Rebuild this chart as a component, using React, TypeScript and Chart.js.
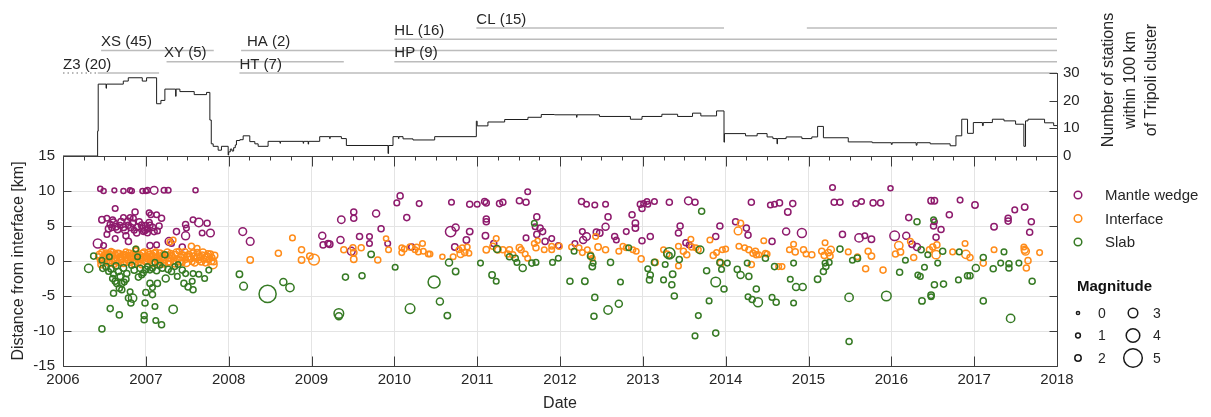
import { useEffect, useRef } from "react";
import { Chart, registerables } from "chart.js";

Chart.register(...registerables);

const W = 1211;
const H = 417;
const FONT = "'Liberation Sans', Arial, Helvetica, sans-serif";
const INK = "#262626";
const FRAME = "#3c3c3c";
const GRID = "#e4e4e4";
const MANTLE = "#8e1b6d";
const INTERFACE = "#ff8c1a";
const SLAB = "#367a24";

// Number of stations within 100 km of the Tripoli cluster (step starts)
const stationYears = [
  2006.0, 2006.418, 2006.425, 2006.52, 2006.525, 2006.728, 2006.788, 2006.957, 2007.009, 2007.13,
  2007.182, 2007.23, 2007.36, 2007.365, 2007.411, 2007.584, 2007.733, 2007.773, 2007.79, 2007.813,
  2007.873, 2007.913, 2007.994, 2008.0, 2008.02, 2008.04, 2008.06, 2008.08, 2008.094, 2008.135,
  2008.175, 2008.255, 2008.316, 2008.356, 2008.476, 2008.62, 2008.625, 2008.9, 2008.905, 2008.96,
  2008.965, 2009.099, 2009.22, 2009.225, 2009.361, 2009.421, 2009.924, 2009.93, 2009.984, 2010.05,
  2010.055, 2010.105, 2010.225, 2010.487, 2010.99, 2011.0, 2011.13, 2011.332, 2011.613, 2011.774,
  2011.934, 2012.2, 2012.205, 2012.476, 2012.85, 2012.99, 2013.23, 2013.42, 2013.6, 2013.7,
  2013.89, 2013.98, 2013.985, 2014.24, 2014.38, 2014.5, 2014.57, 2014.62, 2014.625, 2014.73,
  2014.92, 2015.04, 2015.11, 2015.18, 2015.48, 2015.77, 2016.0, 2016.01, 2016.3, 2016.31,
  2016.47, 2016.71, 2016.78, 2016.85, 2016.92, 2016.99, 2017.1, 2017.11, 2017.22, 2017.36,
  2017.5, 2017.6, 2017.62, 2017.65, 2017.85, 2017.96, 2018.0,
];
const stationCounts = [
  0, 9, 26, 24.5, 26, 27.1, 28.3, 27.1, 28.3, 18.9,
  20.1, 24.2, 21.6, 24.2, 23.3, 22.2, 23.0, 13, 4.4, 3.5,
  2.1, 3.5, 0.35, 1.5, 2.5, 1.8, 3.0, 4.0, 5.6, 5.9,
  7.3, 5.2, 4.4, 3.5, 5.3, 4.6, 5.3, 4.6, 5.3, 4.3,
  5.3, 7.0, 6.3, 7.0, 6.3, 3.8, 0.9, 3.8, 7.0, 6.3,
  7.0, 6.2, 5.8, 7.0, 12.6, 10.9, 12.3, 13.2, 14.0, 15.0,
  14.9, 14.0, 14.9, 14.3, 13.3, 14.3, 15.1, 14.3, 15.5, 14.5,
  16.3, 5.0, 8.1, 7.3, 8.1, 6.9, 6.3, 4.4, 6.3, 6.9,
  6.3, 6.9, 10.7, 6.6, 5.1, 4.8, 4.2, 4.8, 3.9, 4.8,
  4.4, 3.7, 7.3, 13.3, 8.2, 12.1, 11.0, 12.1, 13.3, 12.7,
  11.5, 3.5, 12.7, 13.3, 12.0, 11.0, 11.0,
];

// Seismic networks: name, bar row, operating periods (decimal years)
const networkNames = ["Z3 (20)", "XS (45)", "XY (5)", "HA (2)", "HT (7)", "HL (16)", "HP (9)", "CL (15)"];
const networkRows = [0, 2, 1, 2, 0, 3, 1, 4];
const networkPeriods: number[][][] = [
  [[2006.42, 2007.16]],
  [[2006.46, 2007.82]],
  [[2007.25, 2009.39]],
  [[2008.15, 2018.0]],
  [[2008.13, 2018.0]],
  [[2010.0, 2018.0]],
  [[2010.0, 2018.0]],
  [[2010.99, 2013.98], [2014.98, 2018.0]],
];
const networkLabelYears = [2006.0, 2006.46, 2007.22, 2008.22, 2008.13, 2010.0, 2010.0, 2010.99];
const z3Partial = [2006.0, 2006.42];

// Earthquakes: [decimal year, distance from interface (km), magnitude]
const mantleWedge: number[][] = [
  [2006.45, 10.3, 1.2], [2006.49, 10.0, 1.2], [2006.62, 10.1, 1.0], [2006.73, 10.0, 1.2], [2006.81, 10.1, 1.2],
  [2006.83, 10.0, 1.2], [2006.96, 10.0, 1.2], [2007.0, 10.0, 1.2], [2007.02, 10.1, 1.5], [2007.1, 10.1, 2.4],
  [2007.22, 10.1, 1.5], [2007.27, 10.1, 1.5], [2007.6, 10.1, 1.2],
  [2006.63, 7.5, 1.5], [2006.87, 7.0, 1.8], [2007.04, 6.9, 1.5], [2007.13, 6.6, 1.5], [2007.19, 6.1, 1.8],
  [2006.47, 5.9, 2.0], [2006.53, 6.1, 1.5], [2006.57, 5.2, 1.8], [2006.6, 5.9, 1.5], [2006.59, 4.8, 1.8],
  [2006.64, 4.9, 2.0], [2006.69, 5.1, 1.5], [2006.73, 6.2, 1.5], [2006.73, 4.8, 2.0], [2006.79, 5.1, 1.8],
  [2006.81, 6.2, 1.5], [2006.85, 6.1, 1.5], [2006.82, 4.8, 2.0], [2006.9, 4.9, 1.8], [2006.95, 5.1, 2.0],
  [2006.96, 4.7, 1.8], [2007.0, 5.0, 2.2], [2007.02, 4.6, 1.8], [2007.05, 5.1, 1.8], [2007.06, 6.6, 1.5],
  [2007.02, 4.0, 1.5], [2006.97, 4.2, 1.5], [2006.89, 4.0, 1.8], [2006.86, 4.4, 1.5], [2006.53, 3.8, 1.5],
  [2006.63, 3.2, 1.5], [2006.76, 3.6, 1.8], [2006.79, 2.8, 1.8], [2007.14, 4.3, 1.5], [2007.37, 4.2, 1.8],
  [2007.48, 5.2, 1.8], [2007.49, 4.7, 1.5], [2007.48, 3.6, 2.5], [2007.57, 5.9, 1.5], [2007.64, 5.5, 2.6],
  [2007.74, 5.4, 1.8], [2007.78, 4.0, 2.4], [2007.68, 4.0, 1.5], [2007.28, 2.8, 2.4], [2007.31, 2.5, 1.5],
  [2007.44, 2.0, 1.8], [2006.42, 2.5, 2.8], [2006.49, 2.2, 1.5], [2007.05, 2.2, 1.8], [2007.13, 2.3, 1.5],
  [2006.55, 4.6, 2.0], [2006.61, 5.5, 2.2], [2006.66, 4.5, 2.0], [2006.7, 5.6, 2.0], [2006.75, 4.4, 2.2],
  [2006.78, 5.7, 1.8], [2006.84, 5.4, 2.0], [2006.92, 5.6, 1.8], [2006.99, 4.4, 2.0], [2007.04, 5.5, 1.8],
  [2007.08, 4.8, 2.0], [2007.1, 4.2, 1.8], [2007.16, 5.0, 1.8],
  [2008.17, 4.2, 2.4], [2008.26, 2.8, 2.4], [2009.13, 3.6, 2.2], [2009.14, 2.3, 1.8], [2009.2, 2.5, 1.8],
  [2009.22, 2.4, 2.0], [2009.36, 5.9, 2.3], [2009.35, 3.0, 2.2], [2009.51, 7.0, 1.8], [2009.51, 6.1, 1.8],
  [2009.48, 1.4, 2.4], [2009.58, 3.5, 1.8], [2009.7, 3.5, 1.5], [2009.7, 2.5, 1.5], [2009.78, 6.8, 2.2],
  [2009.84, 4.6, 1.8], [2009.92, 2.5, 1.5], [2010.07, 9.3, 1.8], [2010.03, 8.3, 1.5], [2010.15, 6.2, 1.8],
  [2010.3, 8.2, 1.5], [2010.21, 2.0, 1.8],
  [2010.69, 8.4, 1.5], [2010.91, 8.1, 1.8], [2011.0, 8.1, 1.5], [2011.09, 8.5, 1.8], [2011.11, 8.3, 1.8],
  [2011.27, 8.2, 1.8], [2011.31, 8.4, 1.8], [2011.51, 8.6, 1.8], [2011.59, 8.4, 1.8], [2011.61, 9.9, 1.5],
  [2010.68, 4.2, 3.2], [2010.74, 4.8, 2.2], [2010.91, 4.2, 2.0], [2010.87, 3.0, 2.0], [2010.73, 2.0, 2.0],
  [2011.11, 6.0, 1.8], [2011.11, 5.6, 1.8], [2011.1, 3.6, 2.0], [2011.2, 2.5, 1.8], [2011.72, 6.3, 1.8],
  [2011.7, 4.9, 1.5], [2011.76, 4.7, 1.8], [2011.79, 4.2, 1.8], [2011.72, 3.8, 1.8], [2011.59, 3.3, 1.5],
  [2011.82, 2.8, 1.8], [2011.9, 3.2, 1.5], [2011.98, 2.2, 1.5], [2012.26, 8.5, 1.8], [2012.32, 8.1, 1.5],
  [2012.42, 8.0, 1.5], [2012.55, 8.1, 1.5], [2012.58, 6.3, 1.8], [2012.55, 4.9, 2.2], [2012.48, 4.0, 2.0],
  [2012.27, 4.2, 1.5], [2012.32, 3.5, 2.4], [2012.28, 3.0, 2.2], [2012.18, 2.5, 1.5], [2012.66, 3.5, 1.8],
  [2012.68, 3.0, 1.5], [2012.8, 4.2, 1.5], [2012.87, 6.6, 1.8], [2012.91, 5.4, 2.0], [2012.91, 4.7, 2.0],
  [2012.44, 4.1, 2.0],
  [2012.97, 8.1, 1.8], [2012.99, 7.5, 1.8], [2013.01, 8.2, 1.5], [2013.05, 8.5, 1.5], [2013.06, 8.1, 1.5],
  [2013.14, 8.5, 1.5], [2013.32, 8.4, 1.8], [2013.55, 8.6, 2.4], [2013.63, 8.4, 1.8], [2013.09, 3.5, 1.8],
  [2012.99, 2.9, 1.8], [2013.43, 4.0, 1.8], [2013.45, 5.0, 1.8], [2013.52, 2.6, 1.8], [2013.56, 2.3, 1.5],
  [2013.88, 3.5, 1.8], [2013.93, 5.0, 1.8], [2014.12, 5.6, 1.8], [2014.25, 4.7, 1.8], [2014.27, 3.7, 1.8],
  [2014.31, 8.4, 1.8], [2014.54, 8.0, 1.5], [2014.59, 8.1, 1.5], [2014.65, 8.3, 1.8], [2014.81, 8.2, 1.8],
  [2014.75, 7.0, 2.0], [2014.73, 4.2, 2.2], [2014.92, 4.0, 2.8], [2014.56, 2.8, 1.8], [2015.29, 10.5, 1.5],
  [2015.31, 8.4, 1.8], [2015.38, 8.4, 1.8], [2015.41, 3.8, 1.8],
  [2015.57, 8.2, 1.5], [2015.64, 8.5, 1.5], [2015.78, 8.3, 1.8], [2015.87, 8.3, 1.8], [2015.99, 10.4, 1.2],
  [2015.61, 3.3, 2.6], [2015.68, 3.6, 1.5], [2015.76, 3.1, 2.0], [2016.04, 3.6, 3.0], [2016.18, 3.6, 2.2],
  [2016.21, 6.2, 1.8], [2016.25, 2.4, 2.0], [2016.31, 2.0, 2.2], [2016.48, 8.6, 2.0], [2016.52, 8.6, 2.0],
  [2016.51, 5.0, 1.8], [2016.52, 5.6, 1.5], [2016.6, 4.5, 1.8], [2016.54, 3.4, 1.8], [2016.7, 6.6, 1.8],
  [2016.83, 8.7, 1.5], [2017.01, 8.0, 2.0], [2017.24, 4.9, 2.0], [2017.41, 6.1, 1.8], [2017.41, 5.7, 1.8],
  [2017.49, 7.3, 1.5], [2017.61, 7.7, 2.0], [2017.69, 5.6, 1.8], [2017.67, 4.1, 1.8],
];

const interfaceEvents: number[][] = [
  [2006.43, 0.6, 1.8], [2006.45, 0.1, 1.5], [2006.47, 1.2, 1.8], [2006.48, -0.3, 1.5], [2006.5, 0.8, 2.0],
  [2006.51, 0.3, 1.5], [2006.53, -0.1, 1.8], [2006.54, 1.0, 1.5], [2006.55, 0.5, 2.0], [2006.57, 0.0, 1.5],
  [2006.58, 1.4, 1.5], [2006.59, 0.7, 1.8], [2006.61, 0.2, 1.5], [2006.62, -0.5, 1.5], [2006.63, 0.9, 2.0],
  [2006.65, 0.4, 1.5], [2006.66, 1.1, 1.8], [2006.67, -0.2, 1.5], [2006.69, 0.6, 2.0], [2006.7, 0.1, 1.5],
  [2006.72, 0.9, 1.8], [2006.73, -0.4, 1.5], [2006.75, 0.5, 2.0], [2006.76, 1.3, 1.5], [2006.78, 0.2, 1.8],
  [2006.79, 0.8, 1.5], [2006.81, -0.2, 1.8], [2006.82, 0.4, 2.0], [2006.84, 1.0, 1.5], [2006.85, 0.0, 1.5],
  [2006.87, 0.6, 2.0], [2006.88, 1.5, 1.5], [2006.9, 0.3, 1.8], [2006.91, -0.3, 1.5], [2006.93, 0.8, 2.0],
  [2006.94, 0.2, 1.5], [2006.96, 1.1, 1.8], [2006.97, 0.5, 2.0], [2006.99, -0.1, 1.5], [2007.0, 0.7, 2.0],
  [2007.02, 0.3, 1.5], [2007.03, 1.2, 1.8], [2007.05, 0.0, 1.5], [2007.06, 0.6, 2.0], [2007.08, 0.9, 1.5],
  [2007.09, -0.4, 1.5], [2007.11, 0.4, 2.0], [2007.12, 1.3, 1.5], [2007.14, 0.1, 1.8], [2007.16, 0.7, 2.0],
  [2007.18, -0.2, 1.5], [2007.19, 0.5, 1.8], [2007.21, 1.0, 1.5], [2007.23, 0.2, 2.0], [2007.25, 0.8, 1.8],
  [2007.27, -0.3, 1.5], [2007.28, 0.4, 2.0], [2007.3, 1.1, 1.5], [2007.32, 0.6, 1.8], [2007.34, 0.0, 1.5],
  [2007.36, 0.9, 2.0], [2007.38, 0.3, 1.5], [2007.4, 1.4, 1.5], [2007.42, 0.5, 2.0], [2007.44, -0.2, 1.5],
  [2007.46, 0.8, 1.8], [2007.48, 0.2, 1.5], [2007.5, 0.6, 2.4], [2007.52, 1.0, 1.5], [2007.54, 0.3, 1.8],
  [2007.56, -0.1, 1.5], [2007.58, 0.7, 2.0], [2007.6, 0.4, 1.5], [2007.62, 1.2, 1.8], [2007.64, 0.1, 1.5],
  [2007.66, 0.6, 2.0], [2007.68, 0.9, 1.5], [2007.7, 0.3, 1.8], [2007.72, -0.3, 1.5], [2007.74, 0.7, 2.0],
  [2007.76, 0.2, 1.5], [2007.78, 1.0, 1.8], [2007.8, 0.5, 1.5], [2007.82, -0.1, 1.8], [2007.81, -0.5, 2.6],
  [2006.44, 0.9, 2.2], [2006.46, -0.5, 2.0], [2006.49, 0.4, 2.4], [2006.52, 1.1, 2.0], [2006.56, -0.3, 2.2],
  [2006.57, 0.8, 2.4], [2006.6, 1.2, 2.0], [2006.64, 0.0, 2.4], [2006.68, 1.0, 2.2], [2006.71, 0.3, 2.4],
  [2006.74, 0.9, 2.0], [2006.77, -0.1, 2.2], [2006.8, 1.1, 2.0], [2006.83, 0.6, 2.4], [2006.86, -0.4, 2.0],
  [2006.89, 0.9, 2.2], [2006.92, 0.4, 2.4], [2006.95, -0.5, 2.0], [2006.98, 1.2, 2.2], [2007.01, 0.1, 2.4],
  [2007.04, 0.9, 2.0], [2007.07, -0.2, 2.2], [2007.1, 1.0, 2.4], [2007.13, 0.5, 2.2], [2007.15, -0.5, 2.0],
  [2007.17, 1.1, 2.0], [2007.2, 0.2, 2.4], [2007.22, -0.4, 2.0], [2007.26, 1.2, 2.2], [2007.29, 0.0, 2.4],
  [2007.31, 0.8, 2.0], [2007.35, -0.4, 2.0], [2007.37, 1.2, 2.2], [2007.41, 0.0, 2.4], [2007.43, 0.9, 2.0],
  [2007.47, 1.3, 2.0], [2007.49, -0.3, 2.2], [2007.53, 0.5, 2.4], [2007.57, 1.1, 2.0], [2007.59, -0.2, 2.2],
  [2007.63, 0.6, 2.4], [2007.67, -0.1, 2.0], [2007.69, 1.2, 2.2], [2007.73, 0.4, 2.4], [2007.75, 1.0, 2.0],
  [2007.79, 0.0, 2.2], [2007.83, 0.8, 2.0],
  [2007.33, 3.0, 1.5], [2007.29, 2.7, 1.5], [2007.55, 2.1, 1.8], [2007.62, 1.8, 1.5], [2006.88, 1.7, 1.5],
  [2008.26, 0.15, 2.0], [2008.6, 1.1, 1.8], [2008.77, 3.3, 1.5], [2008.88, 1.6, 1.8], [2008.88, 0.15, 2.0],
  [2008.98, 0.7, 2.0], [2009.03, 0.2, 3.3], [2009.39, 1.6, 1.8], [2009.5, 1.9, 1.8], [2009.51, 1.2, 2.0],
  [2009.51, 0.25, 2.0], [2009.6, 1.9, 1.8], [2009.8, 0.15, 1.8], [2009.9, 3.2, 1.2], [2009.93, 1.6, 1.5],
  [2010.09, 1.9, 1.5], [2010.09, 1.2, 1.5], [2010.12, 1.7, 1.5], [2010.19, 2.0, 1.8], [2010.25, 1.6, 1.5],
  [2010.27, 2.0, 1.5], [2010.29, 1.3, 1.5], [2010.34, 2.5, 1.5], [2010.35, 1.4, 1.5], [2010.41, 1.0, 1.5],
  [2010.43, 1.0, 1.5], [2010.58, 0.6, 1.2], [2010.71, 0.6, 1.5], [2010.78, 1.6, 1.5], [2010.8, 1.0, 2.2],
  [2010.82, 1.9, 1.5], [2010.85, 1.2, 1.8], [2010.88, 2.0, 1.5], [2010.9, 1.1, 1.5], [2011.11, 1.6, 2.0],
  [2011.19, 2.1, 1.8], [2011.23, 3.2, 1.5], [2011.25, 1.6, 2.0], [2011.31, 1.6, 1.8], [2011.39, 1.6, 1.8],
  [2011.37, 1.0, 1.8], [2011.43, 0.9, 1.8], [2011.51, 1.9, 2.0], [2011.53, 1.6, 1.8], [2011.58, 1.0, 1.5],
  [2011.61, 0.4, 1.5], [2011.69, 2.5, 1.5], [2011.71, 1.9, 1.8], [2011.73, 2.9, 1.2], [2011.81, 1.6, 1.5],
  [2011.9, 1.6, 1.5], [2011.9, 2.1, 1.5], [2011.99, 2.1, 1.8], [2012.14, 2.0, 1.5], [2012.23, 1.9, 1.5],
  [2012.27, 1.2, 1.5], [2012.33, 1.6, 1.5], [2012.37, 0.9, 1.5], [2012.39, 0.4, 1.5], [2012.43, 3.5, 1.5],
  [2012.46, 2.0, 2.0], [2012.55, 1.6, 1.8], [2012.71, 1.4, 1.5], [2012.76, 2.1, 1.5], [2012.8, 1.9, 1.5],
  [2012.88, 1.6, 1.5], [2012.92, 1.4, 1.5],
  [2012.98, 0.3, 1.8], [2013.15, -0.2, 1.8], [2013.25, 1.6, 1.5], [2013.29, 1.0, 1.8], [2013.43, 2.1, 1.5],
  [2013.43, -0.7, 1.5], [2013.49, 1.4, 1.8], [2013.53, 0.9, 1.8], [2013.58, 3.1, 1.5], [2013.59, 2.0, 1.8],
  [2013.64, 1.9, 1.5], [2013.67, 1.6, 1.5], [2013.81, 3.0, 1.5], [2013.85, 0.8, 1.8], [2013.89, 1.2, 1.5],
  [2013.96, 1.6, 1.5], [2014.0, 1.7, 1.5], [2013.94, -0.3, 2.0], [2014.16, 2.1, 1.5], [2014.18, 5.4, 1.8],
  [2014.15, 4.3, 2.4], [2014.23, 1.9, 1.5], [2014.28, 1.6, 1.8], [2014.33, 1.1, 1.8], [2014.36, 1.4, 1.8],
  [2014.37, 0.9, 1.8], [2014.31, -0.5, 1.8], [2014.4, 0.9, 1.5], [2014.46, 2.9, 1.5], [2014.48, 1.1, 1.5],
  [2014.5, 1.0, 1.5], [2014.64, -0.8, 1.5], [2014.68, -0.8, 1.5], [2014.77, 1.6, 1.5], [2014.82, 2.4, 1.5],
  [2014.84, 1.3, 1.8], [2014.94, 1.6, 1.8], [2014.97, 1.0, 1.5], [2015.04, 0.9, 1.8], [2015.16, 1.4, 1.8],
  [2015.19, 0.8, 1.8], [2015.2, 2.6, 1.5], [2015.24, 1.2, 2.0], [2015.26, 0.7, 1.8], [2015.27, 1.6, 2.2],
  [2015.48, 1.3, 1.5],
  [2015.59, 0.6, 1.5], [2015.72, 1.4, 1.8], [2015.76, 0.7, 2.0], [2015.69, -1.1, 1.8], [2015.9, -1.3, 1.8],
  [2016.05, 1.0, 1.8], [2016.09, 2.2, 2.6], [2016.11, 1.3, 2.0], [2016.27, 0.5, 1.8], [2016.23, 2.8, 1.5],
  [2016.46, 1.6, 1.8], [2016.5, 2.0, 1.8], [2016.55, 2.3, 1.8], [2016.54, 0.9, 2.6], [2016.74, 1.3, 1.5],
  [2016.89, 2.5, 1.5], [2016.9, 0.95, 2.6], [2016.95, 0.5, 1.8], [2017.11, -0.3, 1.8], [2017.24, 1.6, 1.5],
  [2017.6, 2.0, 1.5], [2017.62, 1.4, 2.4], [2017.61, 1.6, 2.2], [2017.65, 0.05, 1.8], [2017.63, -1.0, 1.8],
  [2017.79, 1.2, 1.5],
];

const slabEvents: number[][] = [
  [2006.31, -1.05, 2.6], [2006.37, 0.7, 1.8], [2006.47, 0.1, 1.5], [2006.56, 0.6, 1.5], [2006.48, -1.05, 1.8],
  [2006.55, -1.5, 1.5], [2006.61, -1.9, 1.5], [2006.67, -1.5, 1.8], [2006.69, -2.2, 1.8], [2006.63, -2.9, 1.8],
  [2006.65, -3.2, 1.8], [2006.71, -3.2, 1.8], [2006.68, -3.9, 1.8], [2006.61, -4.6, 1.8], [2006.74, -3.0, 1.5],
  [2006.71, -4.1, 1.8], [2006.81, -4.4, 1.5], [2006.79, -5.3, 1.8], [2006.84, -5.3, 2.6], [2006.82, -6.0, 1.8],
  [2006.57, -6.8, 1.8], [2006.68, -7.7, 1.8], [2006.47, -9.7, 1.8], [2006.83, -0.6, 1.8], [2006.88, 1.7, 1.5],
  [2006.93, -1.05, 1.8], [2006.95, -2.0, 1.5], [2006.97, -1.7, 1.5], [2007.02, -0.8, 1.5], [2007.05, -1.3, 1.5],
  [2007.08, -1.05, 1.5], [2007.11, -0.2, 1.5], [2007.17, -0.6, 1.5], [2007.05, -3.2, 1.8], [2007.14, -3.2, 1.8],
  [2007.08, -3.8, 1.5], [2007.0, -4.5, 1.8], [2007.08, -4.8, 1.8], [2006.99, -6.0, 1.8], [2007.11, -6.5, 1.5],
  [2006.98, -7.8, 1.8], [2006.98, -8.4, 1.8], [2007.12, -8.5, 1.5], [2007.19, -9.1, 1.8], [2007.33, -6.9, 2.6],
  [2007.24, -2.5, 2.2], [2007.31, -1.5, 1.8], [2007.35, -0.8, 1.5], [2007.38, -2.2, 1.5], [2007.44, -1.3, 1.8],
  [2007.48, -1.8, 1.5], [2007.46, -3.2, 1.8], [2007.51, -3.7, 1.8], [2007.57, -4.1, 1.8], [2007.56, -2.9, 1.5],
  [2007.57, -1.8, 1.5], [2007.64, -1.9, 1.5], [2007.71, -2.5, 1.5], [2007.76, -1.3, 1.5], [2007.23, 0.9, 1.8],
  [2007.39, -0.5, 1.5], [2006.9, 0.6, 1.5],
  [2006.52, -0.8, 2.0], [2006.58, -1.1, 2.0], [2006.64, -0.7, 1.8], [2006.73, -1.0, 2.0], [2006.77, -1.8, 1.8],
  [2006.86, -1.3, 2.0], [2006.91, -2.3, 1.8], [2007.0, -1.2, 2.0], [2007.13, -1.4, 1.8], [2007.2, -1.0, 2.0],
  [2007.27, -1.2, 1.8], [2006.6, -2.5, 1.8], [2006.76, -2.6, 1.8],
  [2008.13, -1.9, 2.0], [2008.18, -3.6, 2.4], [2008.47, -4.7, 4.7], [2008.66, -3.0, 2.2], [2008.74, -3.8, 2.6],
  [2009.33, -7.5, 3.0], [2009.33, -7.9, 2.2], [2009.41, -2.3, 1.8], [2009.61, -2.1, 1.8], [2009.72, 0.95, 2.0],
  [2010.01, -0.9, 1.5], [2010.19, -6.8, 3.0],
  [2010.48, -3.0, 3.6], [2010.55, -5.8, 2.2], [2010.64, -7.8, 2.0], [2010.66, -0.2, 2.2], [2010.74, -1.5, 2.0],
  [2011.04, -0.3, 1.5], [2011.18, -2.0, 2.0], [2011.23, -2.9, 1.5], [2011.24, 1.7, 2.2], [2011.39, 0.6, 1.8],
  [2011.46, 0.4, 1.8], [2011.48, -0.2, 1.5], [2011.55, -1.0, 2.2], [2011.66, -0.3, 1.8], [2011.71, -0.2, 1.5],
  [2011.69, 5.4, 1.5], [2011.91, -0.2, 1.5], [2011.98, 0.4, 1.5], [2012.12, -2.9, 1.8], [2012.3, -2.9, 2.0],
  [2012.37, 0.7, 2.0], [2012.39, -0.8, 2.0], [2012.4, -0.3, 1.5], [2012.42, -5.2, 1.8], [2012.41, -7.9, 1.8],
  [2012.58, -7.0, 2.6], [2012.71, -6.1, 2.2], [2012.61, -0.2, 1.8], [2012.73, -3.0, 1.5], [2012.17, 1.4, 1.5],
  [2012.83, 1.9, 1.5],
  [2013.32, 1.1, 3.4], [2013.32, 0.8, 1.5], [2013.14, -0.2, 1.8], [2013.06, -1.1, 1.5], [2013.09, -2.0, 1.8],
  [2013.08, -2.7, 1.8], [2013.27, -0.5, 1.5], [2013.36, -1.9, 2.0], [2013.35, -3.4, 1.8], [2013.38, -5.0, 1.8],
  [2013.25, -2.7, 1.5], [2013.44, 0.2, 1.8], [2013.69, 1.6, 2.4], [2013.71, 7.1, 1.8], [2013.77, -1.4, 1.8],
  [2013.88, -3.0, 3.0], [2013.98, -4.0, 1.8], [2013.93, -0.2, 1.8], [2013.95, -1.2, 1.5], [2014.02, -0.3, 1.5],
  [2013.8, -5.7, 1.5], [2013.67, -7.8, 1.5], [2013.63, -10.7, 1.5], [2013.88, -10.3, 1.8], [2014.14, -1.2, 1.8],
  [2014.18, -2.0, 2.2], [2014.28, -2.2, 1.8], [2014.26, -0.3, 1.5], [2014.37, -4.0, 1.8], [2014.27, -5.1, 1.5],
  [2014.32, -5.5, 1.8], [2014.39, -5.9, 2.8], [2014.48, 0.4, 1.8], [2014.56, -5.2, 1.5], [2014.61, -5.9, 1.8],
  [2014.59, -0.8, 1.8], [2014.78, -2.6, 1.5], [2014.82, -0.3, 1.5], [2014.85, -3.7, 2.2], [2014.93, -3.7, 2.2],
  [2014.82, -6.0, 1.5], [2015.11, -2.6, 2.0], [2015.18, -1.5, 1.8], [2015.21, -0.8, 1.8], [2015.2, -0.3, 1.5],
  [2015.25, -0.2, 1.5], [2015.38, 1.7, 1.8], [2015.49, -5.2, 2.6], [2015.49, -11.5, 1.8],
  [2015.53, 0.1, 1.5], [2015.59, 0.4, 2.0], [2015.94, -5.0, 3.0], [2016.1, -1.6, 1.8], [2016.17, 0.1, 1.5],
  [2016.31, 5.6, 1.8], [2016.36, 1.6, 1.8], [2016.44, 0.9, 1.5], [2016.4, -0.9, 1.5], [2016.32, -2.0, 1.5],
  [2016.35, -2.2, 1.5], [2016.56, -0.3, 1.5], [2016.62, 1.4, 1.8], [2016.51, 5.9, 1.5], [2016.52, -3.4, 1.8],
  [2016.63, -3.3, 1.8], [2016.81, -2.7, 1.5], [2016.37, -5.7, 2.0], [2016.48, -4.9, 2.0], [2016.48, -5.1, 1.5],
  [2016.82, 1.3, 1.5], [2016.92, -2.1, 1.8], [2016.95, -2.1, 1.8], [2017.02, -1.0, 2.2], [2017.11, -5.7, 1.8],
  [2017.11, 0.5, 1.8], [2017.23, -1.1, 1.8], [2017.32, -0.3, 1.5], [2017.36, 1.3, 1.5], [2017.42, -1.0, 1.8],
  [2017.42, -0.4, 1.8], [2017.54, -0.3, 1.5], [2017.44, -8.2, 2.6], [2017.7, -2.9, 1.8],
];

const magnitudeSteps = [0, 1, 2, 3, 4, 5];
const yearTicks = [2006, 2007, 2008, 2009, 2010, 2011, 2012, 2013, 2014, 2015, 2016, 2017, 2018];
const distanceTicks = [-15, -10, -5, 0, 5, 10, 15];
const stationTicks = [0, 10, 20, 30];

// marker radius (px) for magnitudes 0..5
const MAG_RADIUS = [1.6, 2.4, 3.2, 4.8, 6.8, 9.3];
function radiusFor(m: number) {
  const i = Math.max(0, Math.min(4, Math.floor(m)));
  const f = Math.max(0, Math.min(1, m - i));
  return MAG_RADIUS[i] + (MAG_RADIUS[i + 1] - MAG_RADIUS[i]) * f;
}

const ROW_GAP = 4.07;
const rowLevel = (row: number) => 30 + row * ROW_GAP;

function font(size: number, weight = "normal") {
  return `${weight} ${size}px ${FONT}`;
}

const topDecor = {
  id: "topDecor",
  afterDraw(chart: any) {
    const { ctx, chartArea, scales } = chart;
    const ys = scales.y;
    const xs = scales.x;
    const x = Math.round(chartArea.right) + 0.5;
    ctx.save();
    ctx.strokeStyle = FRAME;
    ctx.lineWidth = 1;
    ctx.beginPath();
    ctx.moveTo(x, ys.getPixelForValue(0));
    ctx.lineTo(x, ys.getPixelForValue(30));
    for (const t of stationTicks) {
      const py = Math.round(ys.getPixelForValue(t)) + 0.5;
      ctx.moveTo(x, py);
      ctx.lineTo(x - 8, py);
    }
    ctx.stroke();

    ctx.fillStyle = INK;
    ctx.font = font(15);
    ctx.textAlign = "left";
    ctx.textBaseline = "bottom";
    networkNames.forEach((name, n) => {
      const px = xs.getPixelForValue(networkLabelYears[n]);
      const py = ys.getPixelForValue(rowLevel(networkRows[n]));
      ctx.fillText(name, px, py - 1);
    });

    ctx.font = font(16);
    ctx.textAlign = "center";
    ctx.textBaseline = "middle";
    const lines = ["Number of stations", "within 100 km", "of Tripoli cluster"];
    const cy = 80;
    lines.forEach((t, i) => {
      ctx.save();
      ctx.translate(1109 + i * 21.5, cy);
      ctx.rotate(-Math.PI / 2);
      ctx.fillText(t, 0, 0);
      ctx.restore();
    });
    ctx.restore();
  },
};

const bottomDecor = {
  id: "bottomDecor",
  afterDraw(chart: any) {
    const { ctx, chartArea, scales } = chart;
    const { left, right, top, bottom } = chartArea;
    const xs = scales.x;
    const ys = scales.y;
    ctx.save();
    ctx.strokeStyle = FRAME;
    ctx.lineWidth = 1;
    const L = Math.round(left) + 0.5;
    const R = Math.round(right) + 0.5;
    const T = Math.round(top) + 0.5;
    const B = Math.round(bottom) + 0.5;
    ctx.beginPath();
    ctx.rect(L, T, R - L, B - T);
    for (const yr of yearTicks) {
      const px = Math.round(xs.getPixelForValue(yr)) + 0.5;
      ctx.moveTo(px, B);
      ctx.lineTo(px, B - 10);
      ctx.moveTo(px, T);
      ctx.lineTo(px, T + 10);
    }
    for (let yr = 2006; yr < 2018; yr++) {
      for (const q of [0.25, 0.5, 0.75]) {
        const px = Math.round(xs.getPixelForValue(yr + q)) + 0.5;
        ctx.moveTo(px, T);
        ctx.lineTo(px, T + 4);
      }
    }
    for (const d of distanceTicks) {
      const py = Math.round(ys.getPixelForValue(d)) + 0.5;
      ctx.moveTo(L, py);
      ctx.lineTo(L + 8, py);
      ctx.moveTo(R, py);
      ctx.lineTo(R - 8, py);
    }
    ctx.stroke();

    ctx.fillStyle = INK;
    ctx.font = font(16);
    ctx.textAlign = "center";
    ctx.textBaseline = "middle";
    ctx.fillText("Date", (left + right) / 2, 404);
    ctx.save();
    ctx.translate(19, (top + bottom) / 2);
    ctx.rotate(-Math.PI / 2);
    ctx.fillText("Distance from interface [km]", 0, 0);
    ctx.restore();

    // series legend
    const series = [
      ["Mantle wedge", MANTLE],
      ["Interface", INTERFACE],
      ["Slab", SLAB],
    ];
    ctx.lineWidth = 1.5;
    ctx.textAlign = "left";
    ctx.font = font(15);
    series.forEach(([label, color], i) => {
      const cy = 195 + i * 23.5;
      ctx.strokeStyle = color;
      ctx.beginPath();
      ctx.arc(1078, cy, 3.8, 0, Math.PI * 2);
      ctx.stroke();
      ctx.fillStyle = INK;
      ctx.fillText(label, 1105, cy + 1);
    });

    // magnitude legend
    ctx.font = font(15, "bold");
    ctx.fillStyle = "#111";
    ctx.fillText("Magnitude", 1077, 287);
    ctx.font = font(14);
    magnitudeSteps.forEach((m, i) => {
      const col = Math.floor(i / 3);
      const row = i % 3;
      const cx = 1078 + col * 55;
      const cy = 313 + row * 22.5;
      ctx.strokeStyle = "#1a1a1a";
      ctx.lineWidth = 1.5;
      ctx.beginPath();
      ctx.arc(cx, cy, radiusFor(m), 0, Math.PI * 2);
      ctx.stroke();
      ctx.fillStyle = INK;
      ctx.textAlign = "center";
      ctx.fillText(String(m), cx + 24, cy + 1);
    });
    ctx.restore();
  },
};

function toPoints(rows: number[][]) {
  return rows.map(([x, y, m]) => ({ x, y, m }));
}

export default function App() {
  const topRef = useRef<HTMLCanvasElement>(null);
  const bottomRef = useRef<HTMLCanvasElement>(null);

  useEffect(() => {
    Chart.defaults.font.family = FONT;
    const networkSets: any[] = [];
    networkPeriods.forEach((periods, n) => {
      periods.forEach(([a, b]) => {
        const lv = rowLevel(networkRows[n]);
        networkSets.push({
          data: [{ x: a, y: lv }, { x: b, y: lv }],
          borderColor: "#bcbcbc",
          borderWidth: 1.5,
          pointRadius: 0,
        });
      });
    });
    networkSets.push({
      data: [{ x: z3Partial[0], y: rowLevel(0) }, { x: z3Partial[1], y: rowLevel(0) }],
      borderColor: "#a0a0a0",
      borderWidth: 1.5,
      borderDash: [1.5, 3],
      pointRadius: 0,
    });

    const top = new Chart(topRef.current!, {
      type: "line",
      data: {
        datasets: [
          {
            data: stationYears.map((x, i) => ({ x, y: stationCounts[i] })),
            borderColor: "#1e1e1e",
            borderWidth: 1,
            stepped: true,
            pointRadius: 0,
          },
          ...networkSets,
        ],
      },
      options: {
        responsive: false,
        animation: false,
        events: [],
        layout: { padding: { left: 63, right: 0, top: 10, bottom: 261 } },
        plugins: { legend: { display: false }, tooltip: { enabled: false } },
        scales: {
          x: { type: "linear", min: 2006, max: 2018, display: false },
          y: {
            type: "linear",
            position: "right",
            min: 0,
            max: 51,
            afterFit: (s: any) => {
              s.width = 154;
            },
            grid: { display: false, drawTicks: false },
            border: { display: false },
            afterBuildTicks: (s: any) => {
              s.ticks = stationTicks.map((v) => ({ value: v }));
            },
            ticks: {
              padding: 6,
              color: INK,
              font: { size: 15, family: FONT },
              callback: (v: any) => String(v),
            },
          },
        },
      },
      plugins: [topDecor],
    } as any);

    const bottom = new Chart(bottomRef.current!, {
      type: "scatter",
      data: {
        datasets: [
          { label: "Mantle wedge", data: toPoints(mantleWedge), borderColor: MANTLE, order: 3 },
          { label: "Interface", data: toPoints(interfaceEvents), borderColor: INTERFACE, order: 2 },
          { label: "Slab", data: toPoints(slabEvents), borderColor: SLAB, order: 1 },
        ].map((d) => ({
          ...d,
          backgroundColor: "rgba(0,0,0,0)",
          pointBackgroundColor: "rgba(0,0,0,0)",
          pointBorderWidth: 1.5,
          pointRadius: (c: any) => radiusFor(c.raw ? c.raw.m : 2),
        })),
      },
      options: {
        responsive: false,
        animation: false,
        events: [],
        layout: { padding: { left: 0, right: 154, top: 156, bottom: 0 } },
        plugins: { legend: { display: false }, tooltip: { enabled: false } },
        scales: {
          x: {
            type: "linear",
            min: 2006,
            max: 2018,
            afterFit: (s: any) => {
              s.height = 51;
            },
            afterBuildTicks: (s: any) => {
              s.ticks = yearTicks.map((v) => ({ value: v }));
            },
            grid: { color: GRID, drawTicks: false },
            border: { display: false },
            ticks: {
              padding: 5,
              color: INK,
              maxRotation: 0,
              autoSkip: false,
              font: { size: 15, family: FONT },
              callback: (v: any) => String(v),
            },
          },
          y: {
            type: "linear",
            min: -15,
            max: 15,
            afterFit: (s: any) => {
              s.width = 63;
            },
            afterBuildTicks: (s: any) => {
              s.ticks = distanceTicks.map((v) => ({ value: v }));
            },
            grid: { color: GRID, drawTicks: false },
            border: { display: false },
            ticks: {
              padding: 8,
              color: INK,
              font: { size: 15, family: FONT },
              callback: (v: any) => String(v),
            },
          },
        },
      },
      plugins: [bottomDecor],
    } as any);

    return () => {
      top.destroy();
      bottom.destroy();
    };
  }, []);

  const canvasStyle: any = { position: "absolute", left: 0, top: 0 };
  return (
    <div style={{ position: "absolute", left: 0, top: 0, width: W, height: H, background: "#fff" }}>
      <canvas ref={topRef} width={W} height={H} style={canvasStyle} />
      <canvas ref={bottomRef} width={W} height={H} style={canvasStyle} />
    </div>
  );
}
